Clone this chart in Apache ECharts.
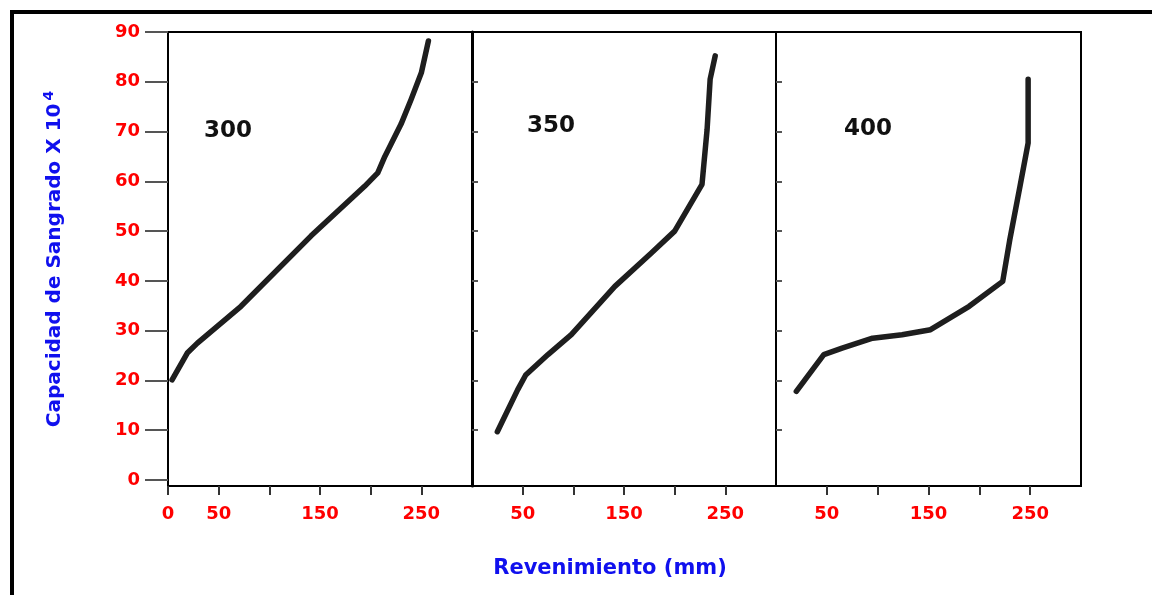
<!DOCTYPE html>
<html>
<head>
<meta charset="utf-8">
<title>Capacidad de Sangrado vs Revenimiento</title>
<script src="https://cdn.jsdelivr.net/npm/echarts@6/dist/echarts.min.js"></script>
<style>
  html, body { margin: 0; padding: 0; background: #fff; }
  #chart { width: 1152px; height: 595px; }
</style>
</head>
<body>
<div id="chart"></div>
<script>
  // curves (revenimiento mm, capacidad x10^4)
  var rev300 = [4, 19, 29, 72, 141, 194, 207, 214, 230, 240, 250, 257];
  var cap300 = [20.1, 25.5, 27.5, 34.9, 49, 59, 61.7, 65, 71.5, 76.5, 81.8, 88.2];
  var rev350 = [25, 45, 53, 75, 98, 141, 177, 200, 227, 232, 235, 240];
  var cap350 = [9.7, 18.1, 21.1, 25.2, 29.2, 38.9, 45.6, 50, 59.4, 70.4, 80.5, 85.2];
  var rev400 = [20, 47, 65, 95, 124, 152, 190, 223, 230, 240, 248, 248];
  var cap400 = [17.8, 25.2, 26.5, 28.5, 29.2, 30.2, 34.9, 39.9, 48.3, 59, 67.7, 80.5];

  var panelNames = ['300', '350', '400'];
  var yTicks = [0, 10, 20, 30, 40, 50, 60, 70, 80, 90];
  var yTicksInner = [10, 20, 30, 40, 50, 60, 70, 80];
  var xTicksFirst = [0, 50, 100, 150, 200, 250];
  var xTicksOther = [50, 100, 150, 200, 250];
  var xLabelsFirst = [0, 50, 150, 250];
  var xLabelsOther = [50, 150, 250];

  function zip(a, b) {
    return a.map(function (v, i) { return [v, b[i]]; });
  }

  var labelFont = {
    color: '#ff0000',
    fontWeight: 'bold',
    fontSize: 18,
    fontFamily: 'DejaVu Sans'
  };

  var gridLefts = [168, 472, 776];
  var grids = gridLefts.map(function (l, i) {
    return {
      left: l, top: 32, width: i === 2 ? 305 : 304, height: 454,
      show: true, borderColor: '#000', borderWidth: 2, backgroundColor: 'transparent'
    };
  });

  var xAxes = [0, 1, 2].map(function (i) {
    return {
      type: 'value', gridIndex: i, min: 0, max: 300,
      axisLine: { show: true, onZero: false, lineStyle: { color: '#000', width: 2 } },
      axisTick: {
        show: true, length: 9,
        customValues: i === 0 ? xTicksFirst : xTicksOther,
        lineStyle: { color: '#333', width: 2 }
      },
      axisLabel: Object.assign({
        customValues: i === 0 ? xLabelsFirst : xLabelsOther,
        margin: 19
      }, labelFont),
      splitLine: { show: false }
    };
  });

  var yAxes = [0, 1, 2].map(function (i) {
    var ax = {
      type: 'value', gridIndex: i, min: -1.2, max: 90,
      axisLine: { show: true, onZero: false, lineStyle: { color: '#000', width: i === 1 ? 3 : 2 } },
      splitLine: { show: false }
    };
    if (i === 0) {
      ax.axisTick = { show: true, length: 23, customValues: yTicks, lineStyle: { color: '#555', width: 2 } };
      ax.axisLabel = Object.assign({ customValues: yTicks, margin: 28 }, labelFont);
      ax.name = '{a|Capacidad de Sangrado X 10}{s|4}';
      ax.nameLocation = 'middle';
      ax.nameRotate = 90;
      ax.nameGap = 100;
      ax.nameTextStyle = {
        rich: {
          a: { color: '#1010ee', fontWeight: 'bold', fontSize: 20, fontFamily: 'DejaVu Sans' },
          s: { color: '#1010ee', fontWeight: 'bold', fontSize: 14, fontFamily: 'DejaVu Sans', verticalAlign: 'top', padding: [0, 0, 12, 3] }
        }
      };
    } else {
      ax.axisTick = { show: true, inside: true, length: 6, customValues: yTicksInner, lineStyle: { color: '#555', width: 2 } };
      ax.axisLabel = { show: false };
    }
    return ax;
  });

  var curves = [zip(rev300, cap300), zip(rev350, cap350), zip(rev400, cap400)];
  var series = curves.map(function (d, i) {
    return {
      name: panelNames[i], type: 'line', xAxisIndex: i, yAxisIndex: i,
      data: d, showSymbol: false, smooth: false,
      lineStyle: { color: '#1e1e1e', width: 5.5, cap: 'round', join: 'round' }
    };
  });

  var tagPos = [[228, 131], [551, 126], [868, 129]];
  var graphics = tagPos.map(function (p, i) {
    return {
      type: 'text', x: p[0], y: p[1],
      style: {
        text: panelNames[i], fill: '#111', font: 'bold 23px "DejaVu Sans"',
        align: 'center', verticalAlign: 'middle'
      }
    };
  });
  graphics.push({
    type: 'text', x: 610, y: 569,
    style: {
      text: 'Revenimiento (mm)', fill: '#1010ee', font: 'bold 21px "DejaVu Sans"',
      align: 'center', verticalAlign: 'middle'
    }
  });
  // outer frame (top and left only)
  graphics.push({ type: 'rect', shape: { x: 10, y: 10, width: 1142, height: 4 }, style: { fill: '#000' } });
  graphics.push({ type: 'rect', shape: { x: 10, y: 10, width: 4, height: 585 }, style: { fill: '#000' } });

  var chart = echarts.init(document.getElementById('chart'));
  chart.setOption({
    backgroundColor: '#fff',
    animation: false,
    grid: grids,
    xAxis: xAxes,
    yAxis: yAxes,
    series: series,
    graphic: graphics
  });
</script>
</body>
</html>
